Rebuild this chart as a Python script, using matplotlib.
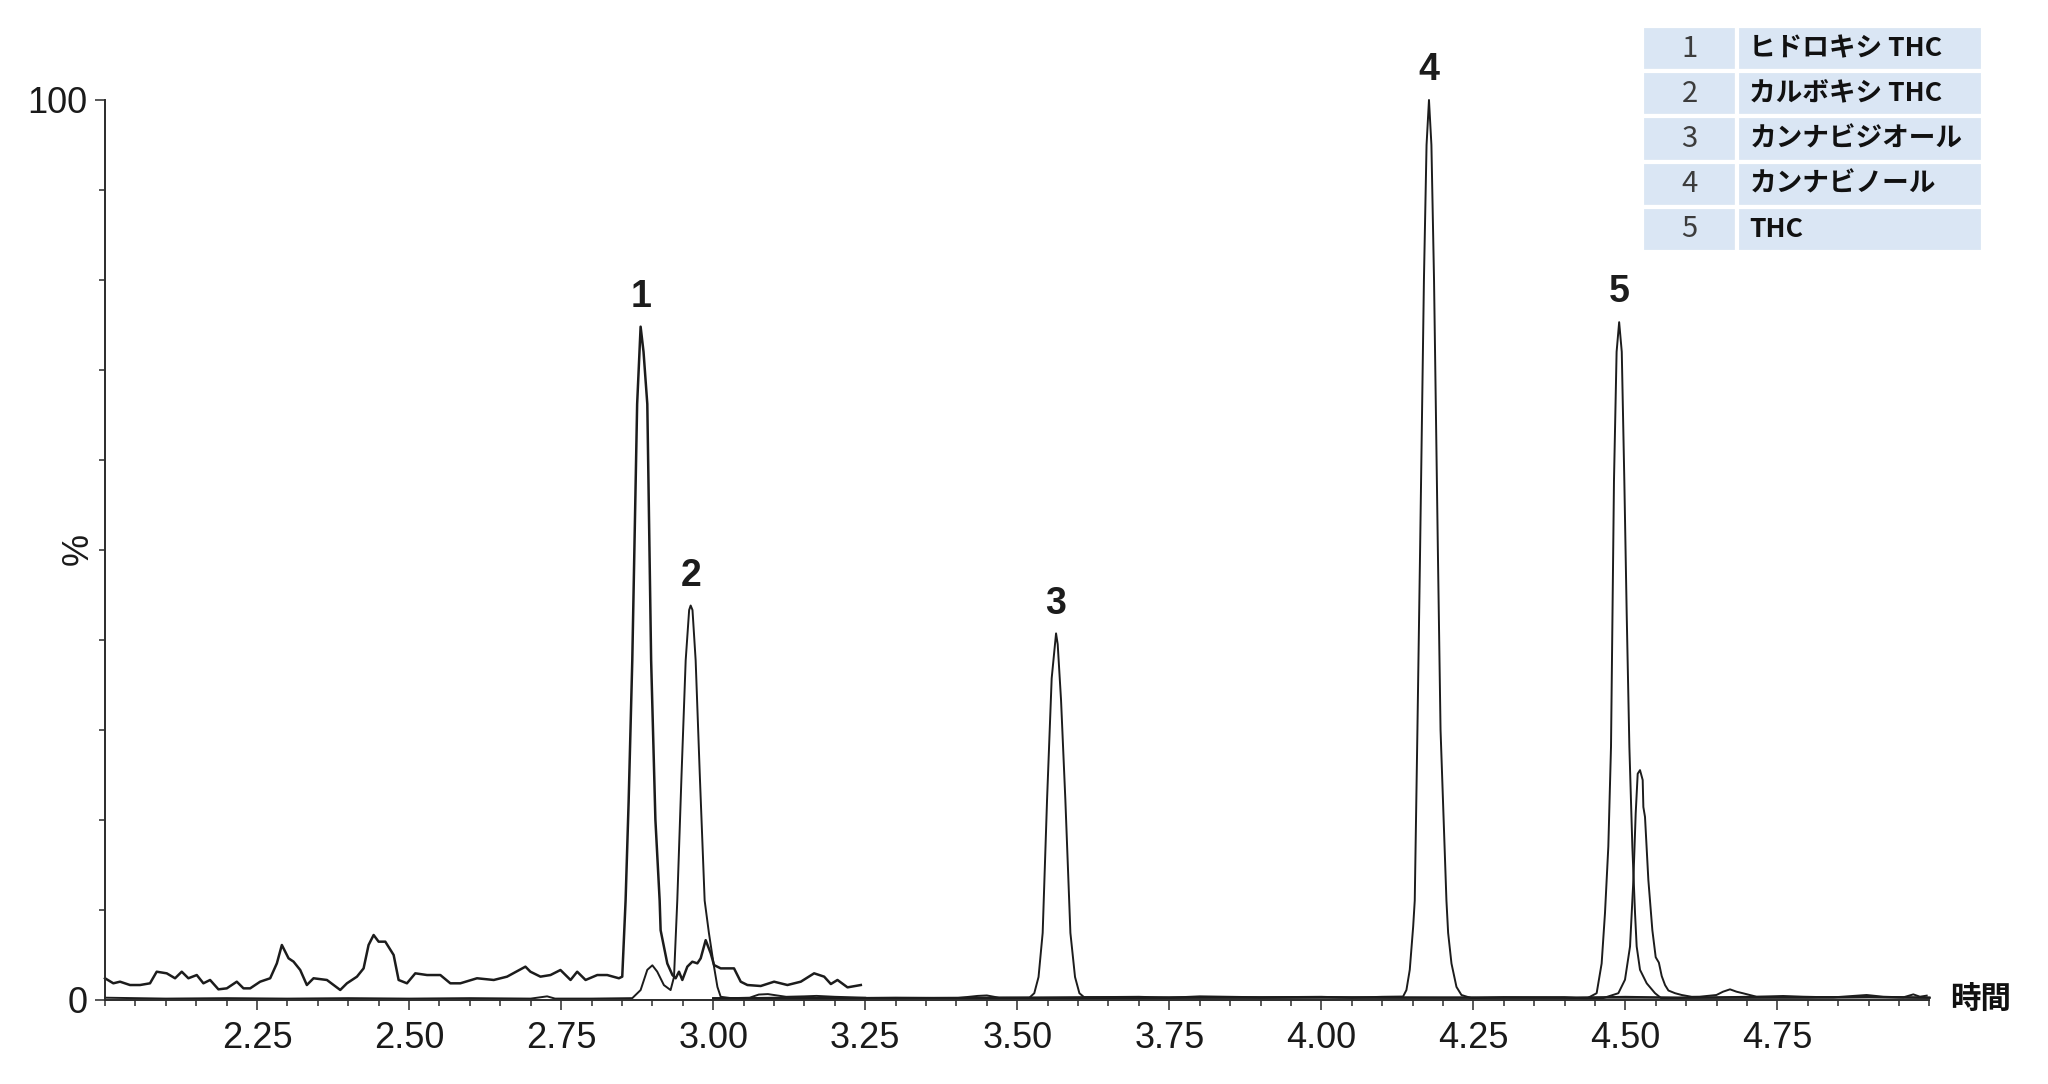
import numpy as np
import matplotlib
matplotlib.use('Agg')
import matplotlib.pyplot as plt
from matplotlib.ticker import MultipleLocator

plt.rcParams['font.family'] = ['Liberation Sans', 'Noto Sans CJK JP', 'DejaVu Sans']

# retention time (min) / relative intensity (%) per MRM channel
# 1 hydroxy THC (window 2.0 - 3.25)
t_hydroxy = [2.000, 2.0137, 2.0247, 2.0411, 2.0576, 2.0740, 2.0850, 2.1015, 2.1152, 2.1262,
             2.1371, 2.1509, 2.1618, 2.1728, 2.1865, 2.2003, 2.2167, 2.2277, 2.2387, 2.2551,
             2.2716, 2.2826, 2.2908, 2.3018, 2.3100, 2.3210, 2.3319, 2.3429, 2.3649, 2.3868,
             2.3978, 2.4143, 2.4252, 2.4334, 2.4417, 2.4499, 2.4609, 2.4746, 2.4828, 2.4965,
             2.5102, 2.5295, 2.5514, 2.5678, 2.5843, 2.6117, 2.6392, 2.6611, 2.6913, 2.6995,
             2.7160, 2.7325, 2.7489, 2.7655, 2.7764, 2.7902, 2.8094, 2.8258, 2.8450, 2.8505,
             2.856, 2.861, 2.867, 2.875, 2.8807, 2.8855, 2.8917, 2.898, 2.905, 2.912,
             2.9136, 2.9246, 2.933, 2.9383, 2.9438, 2.9493, 2.9575, 2.9657, 2.974, 2.9795,
             2.9877, 2.996, 3.0014, 3.0124, 3.0343, 3.0453, 3.0563, 3.0782, 3.1002, 3.1221,
             3.1441, 3.166, 3.1825, 3.1935, 3.2044, 3.2209, 3.2428]
i_hydroxy = [2.36, 1.80, 1.98, 1.61, 1.61, 1.80, 3.09, 2.91, 2.36, 3.09,
             2.36, 2.72, 1.80, 2.17, 1.13, 1.24, 1.98, 1.24, 1.24, 1.98,
             2.36, 4.02, 6.06, 4.58, 4.21, 3.28, 1.61, 2.36, 2.17, 1.06,
             1.80, 2.54, 3.46, 6.06, 7.17, 6.43, 6.43, 4.95, 2.17, 1.80,
             2.91, 2.72, 2.72, 1.80, 1.80, 2.36, 2.17, 2.54, 3.65, 3.09,
             2.54, 2.72, 3.28, 2.17, 3.09, 2.17, 2.72, 2.72, 2.36, 2.54,
             11.0, 22.0, 37.7, 66.2, 74.8, 72.0, 66.2, 37.7, 20.0, 11.0,
             7.7, 4.0, 2.72, 2.36, 3.09, 2.17, 3.65, 4.20, 4.02, 4.58,
             6.60, 5.13, 3.83, 3.46, 3.46, 1.98, 1.61, 1.50, 1.98, 1.61,
             1.98, 2.91, 2.54, 1.72, 2.17, 1.35, 1.61]

# 2 carboxy THC
t_carboxy = [2.00, 2.10, 2.20, 2.30, 2.40, 2.50, 2.60, 2.70, 2.727, 2.74, 2.80, 2.867,
             2.8807, 2.8917, 2.900, 2.908, 2.919, 2.930, 2.9356, 2.941, 2.948, 2.9548,
             2.9605, 2.963, 2.966, 2.9712, 2.978, 2.986, 2.993, 3.0014, 3.007, 3.0124,
             3.03, 3.06, 3.075, 3.09, 3.105, 3.12, 3.15, 3.17, 3.20, 3.25]
i_carboxy = [0.2, 0.1, 0.15, 0.1, 0.15, 0.1, 0.15, 0.1, 0.35, 0.1, 0.1, 0.15,
             1.05, 3.3, 3.8, 3.1, 1.6, 1.05, 2.5, 11.0, 25.0, 37.7,
             43.3, 43.8, 43.3, 37.7, 25.0, 11.0, 7.4, 3.65, 1.4, 0.3,
             0.15, 0.2, 0.55, 0.6, 0.45, 0.3, 0.35, 0.4, 0.3, 0.2]

# 3 cannabidiol
t_cbd = [3.00, 3.10, 3.20, 3.30, 3.40, 3.435, 3.45, 3.47, 3.520, 3.528, 3.535, 3.5418,
         3.549, 3.5566, 3.5638, 3.5665, 3.572, 3.5791, 3.5874, 3.595, 3.6022, 3.61,
         3.70, 3.80, 3.90, 4.00, 4.10, 4.30, 4.50, 4.70, 4.90, 5.00]
i_cbd = [0.1, 0.2, 0.15, 0.2, 0.15, 0.4, 0.45, 0.2, 0.2, 0.7, 2.5, 7.4,
         22.2, 35.7, 40.7, 39.5, 33.3, 22.2, 7.4, 2.5, 0.7, 0.25,
         0.2, 0.25, 0.2, 0.25, 0.2, 0.2, 0.2, 0.2, 0.25, 0.2]

# 4 cannabinol
t_cbn = [3.00, 3.50, 3.70, 3.75, 3.80, 3.90, 4.00, 4.05, 4.10, 4.1344, 4.1399, 4.1454,
         4.151, 4.1536, 4.158, 4.1624, 4.1687, 4.173, 4.177, 4.181, 4.1853, 4.1916,
         4.196, 4.2057, 4.2085, 4.214, 4.2222, 4.2304, 4.247, 4.30, 4.40, 4.50,
         4.60, 4.70, 4.80, 4.90, 5.00]
i_cbn = [0.1, 0.2, 0.3, 0.2, 0.35, 0.25, 0.3, 0.2, 0.3, 0.33, 1.05, 3.3,
         8.1, 11.0, 30.0, 50.0, 80.0, 95.0, 100.0, 95.0, 80.0, 50.0,
         30.0, 11.0, 7.4, 4.0, 1.4, 0.5, 0.15, 0.25, 0.2, 0.3,
         0.2, 0.3, 0.25, 0.3, 0.2]

# 5 THC
t_thc = [3.00, 3.50, 4.00, 4.20, 4.40, 4.4362, 4.4527, 4.4609, 4.4664, 4.4719, 4.4763,
         4.4812, 4.4855, 4.4897, 4.494, 4.4982, 4.5021, 4.5065, 4.5114, 4.5158, 4.5185,
         4.524, 4.535, 4.5487, 4.5597, 4.60, 4.70, 4.80, 4.90, 5.00]
i_thc = [0.1, 0.15, 0.2, 0.2, 0.25, 0.1, 0.7, 4.0, 9.6, 17.0, 28.1,
         57.7, 72.0, 75.3, 72.0, 57.7, 42.9, 28.1, 17.0, 9.6, 5.9,
         3.3, 1.8, 0.7, 0.1, 0.2, 0.2, 0.2, 0.25, 0.2]

# unlabelled isomer peak next to THC
t_iso = [3.00, 3.50, 4.00, 4.30, 4.40, 4.4609, 4.4884, 4.4993, 4.5076, 4.5131, 4.5169,
         4.5202, 4.524, 4.5284, 4.5295, 4.5322, 4.5377, 4.5443, 4.5498, 4.555, 4.5597,
         4.5652, 4.5707, 4.5816, 4.5926, 4.609, 4.622, 4.6496, 4.6606, 4.672, 4.6826,
         4.6935, 4.7155, 4.7594, 4.7924, 4.8417, 4.8966, 4.924, 4.957, 4.9734, 4.9843, 4.9954]
i_iso = [0.15, 0.2, 0.25, 0.2, 0.2, 0.1, 0.7, 2.2, 5.9, 13.3, 20.7,
         25.1, 25.5, 24.4, 21.4, 20.3, 13.3, 7.7, 4.7, 4.1, 2.6,
         1.6, 1.0, 0.7, 0.5, 0.3, 0.31, 0.5, 0.87, 1.13, 0.87,
         0.69, 0.31, 0.39, 0.31, 0.24, 0.5, 0.31, 0.24, 0.57, 0.31, 0.43]

peak_numbers = ['1', '2', '3', '4', '5']
compound_names = ['ヒドロキシ THC', 'カルボキシ THC', 'カンナビジオール', 'カンナビノール', 'THC']
time_ticks = [2.25, 2.50, 2.75, 3.00, 3.25, 3.50, 3.75, 4.00, 4.25, 4.50, 4.75]
pct_ticks = [0, 100]

LINE = '#1c1c1c'
AXC = '#2b2b2b'

fig = plt.figure(figsize=(20.48, 10.84), dpi=100)
ax = fig.add_axes([105 / 2048, 1 - 999.5 / 1084, 1824.5 / 2048, 899.5 / 1084])

labelled = [(t_hydroxy, i_hydroxy), (t_carboxy, i_carboxy), (t_cbd, i_cbd),
            (t_cbn, i_cbn), (t_thc, i_thc)]
for n, ((t, y), num) in enumerate(zip(labelled, peak_numbers)):
    ax.plot(t, y, color=LINE, lw=1.8 if n == 0 else 1.4, clip_on=False,
            solid_joinstyle='round')
    k = int(np.argmax(y))
    ax.annotate(num, (t[k], y[k]), xytext=(0, 21.5), textcoords='offset points',
                ha='center', va='center', fontsize=27, fontweight='bold',
                color=LINE, annotation_clip=False)
ax.plot(t_iso, i_iso, color=LINE, lw=1.4, clip_on=False, solid_joinstyle='round')

ax.set_xlim(2.0, 5.0)
ax.set_ylim(0, 100)
for s in ['top', 'right']:
    ax.spines[s].set_visible(False)
for s in ['left', 'bottom']:
    ax.spines[s].set_linewidth(1.4)
    ax.spines[s].set_color(AXC)

ax.set_xticks(time_ticks)
ax.set_xticklabels([f'{v:.2f}' for v in time_ticks])
ax.xaxis.set_minor_locator(MultipleLocator(0.05))
ax.set_yticks(pct_ticks)
ax.set_yticklabels([str(v) for v in pct_ticks])
ax.yaxis.set_minor_locator(MultipleLocator(10))
ax.tick_params(axis='both', which='major', length=7.5, width=1.1, color=AXC,
               labelsize=26, labelcolor='#1a1a1a')
ax.tick_params(axis='both', which='minor', length=4.5, width=1.1, color=AXC)
ax.tick_params(axis='x', which='major', pad=8)
ax.tick_params(axis='y', which='major', pad=5)

fig.text(78 / 2048, 1 - 549 / 1084, '%', rotation=90, ha='center', va='center',
         fontsize=26, color='#1a1a1a')
fig.text(1950 / 2048, 1 - 1000 / 1084, '時間', ha='left', va='center', fontsize=22,
         fontweight='bold', family=['Noto Sans CJK JP'], color='#111111')

# compound table
tab_ax = fig.add_axes([1642 / 2048, 1 - 252 / 1084, 341 / 2048, 226 / 1084])
tab_ax.axis('off')
cells = [[n, c] for n, c in zip(peak_numbers, compound_names)]
tbl = tab_ax.table(cellText=cells, cellLoc='left', bbox=[0, 0, 1, 1],
                   colWidths=[95 / 341, 246 / 341])
tbl.auto_set_font_size(False)
for (r, c), cell in tbl.get_celld().items():
    cell.set_facecolor('#dae6f4')
    cell.set_edgecolor('white')
    cell.set_linewidth(3)
    txt = cell.get_text()
    txt.set_family(['Noto Sans CJK JP'])
    if c == 0:
        txt.set_horizontalalignment('center')
        txt.set_fontsize(21)
        txt.set_color('#3c3c3c')
    else:
        cell.PAD = 0.05
        txt.set_fontsize(19.2)
        txt.set_fontweight('bold')
        txt.set_color('#111111')

fig.savefig('out.png', dpi=100, facecolor='white')
